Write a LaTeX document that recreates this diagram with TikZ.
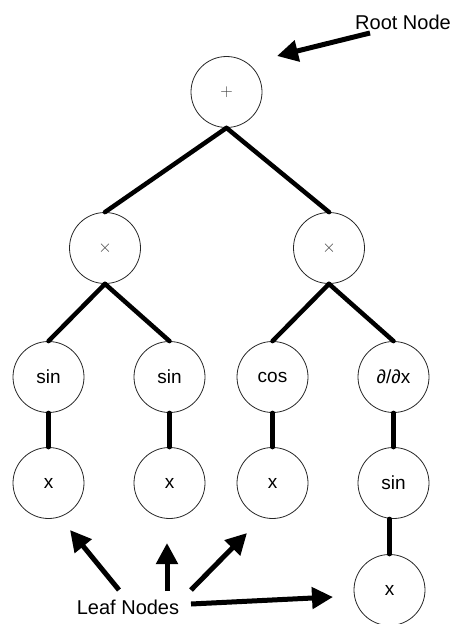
\documentclass[tikz,border=0pt]{standalone}
\usepackage{fontspec}
\setmainfont{Liberation Sans}
\usetikzlibrary{arrows.meta}
\tikzset{
  tnode/.style={circle, draw=black!85, line width=0.8pt, minimum size=71pt, inner sep=0pt,
    font=\fontsize{19}{22}\selectfont},
  opnode/.style={tnode, font=\fontsize{17}{20}\selectfont\color{black!75}},
  edge/.style={line width=4.5pt, line cap=round},
  pointer/.style={line width=5pt, -{Triangle[length=21pt,width=21pt]}},
  lbl/.style={font=\fontsize{20}{24}\selectfont, inner sep=0pt}
}
\begin{document}
\begin{tikzpicture}[x=1pt,y=-1pt]
\useasboundingbox (0,0) rectangle (453,624);
% nodes
\node[opnode] (root) at (226.5,92) {$+$};
\node[opnode] (t1) at (105,248) {$\times$};
\node[opnode] (t2) at (329,248) {$\times$};
\node[tnode] (s1) at (48.5,377) {sin};
\node[tnode] (s2) at (169.5,377) {sin};
\node[tnode] (c1) at (272.5,377) {cos};
\node[tnode] (d1) at (393.5,377) {\textit{∂}/\textit{∂}x};
\node[tnode] (x1) at (48.5,483) {x};
\node[tnode] (x2) at (169.5,483) {x};
\node[tnode] (x3) at (272.5,483) {x};
\node[tnode] (s4) at (393.5,483) {sin};
\node[tnode] (x4) at (389.5,590) {x};
% edges
\draw[edge] (root.south) -- (t1.north);
\draw[edge] (root.south) -- (t2.north);
\draw[edge] (t1.south) -- (s1.north);
\draw[edge] (t1.south) -- (s2.north);
\draw[edge] (t2.south) -- (c1.north);
\draw[edge] (t2.south) -- (d1.north);
\draw[edge] (s1.south) -- (x1.north);
\draw[edge] (s2.south) -- (x2.north);
\draw[edge] (c1.south) -- (x3.north);
\draw[edge] (d1.south) -- (s4.north);
\draw[edge] (x4.north |- s4.south) -- (x4.north);
% labels
\node[lbl] (rootlbl) at (403,22) {Root Node};
\node[lbl] (leaflbl) at (128,607) {Leaf Nodes};
\coordinate (ra) at (370,33);
\coordinate (rb) at (277,56);
\draw[pointer] (ra) -- (rb);
\coordinate (la1) at (119,590);
\coordinate (lb1) at (70,530);
\coordinate (la2) at (167,591);
\coordinate (lb2) at (167,543);
\coordinate (la3) at (191,590);
\coordinate (lb3) at (247,533);
\coordinate (la4) at (191,604);
\coordinate (lb4) at (333,597);
\draw[pointer] (la1) -- (lb1);
\draw[pointer] (la2) -- (lb2);
\draw[pointer] (la3) -- (lb3);
\draw[pointer] (la4) -- (lb4);
\end{tikzpicture}
\end{document}
